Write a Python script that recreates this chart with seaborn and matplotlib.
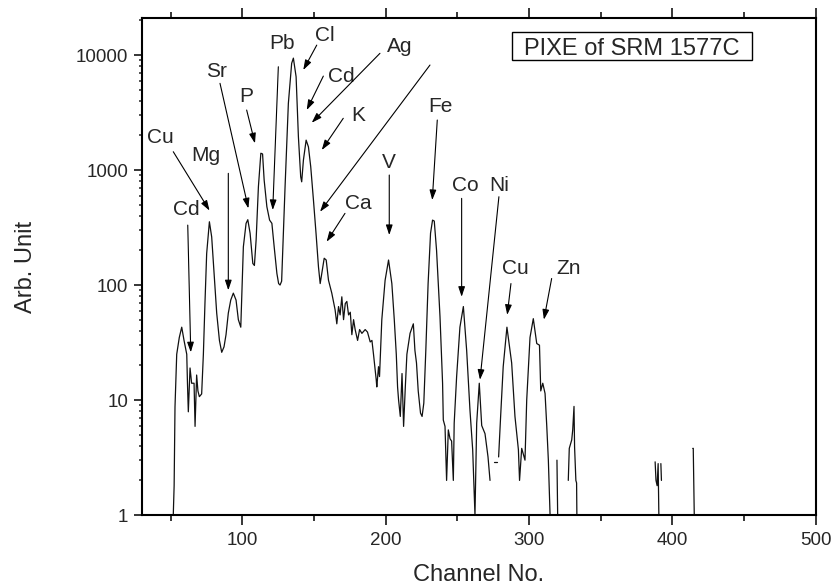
import numpy as np
import pandas as pd
import seaborn as sns
import matplotlib.pyplot as plt
from matplotlib import ticker
from matplotlib.patches import Rectangle

nan = np.nan

# traced spectrum (channel, counts); nan marks a gap where counts drop to zero
channel = [51.8, 52.4, 53.0, 54.2, 56.0, 57.7, 59.3, 61.2, 61.7, 62.3, 63.5, 64.6, 66.3, 67.0,
           68.1, 69.0, 70.0, 71.6, 72.8, 73.9, 75.1, 77.0, 78.6, 80.3, 82.1, 84.0, 85.6, 87.2,
           88.6, 90.2, 91.9, 93.7, 95.6, 97.2, 98.9, 99.8, 100.7, 102.6, 103.8, 105.4, 107.3,
           108.4, 109.6, 111.2, 112.9, 114.1, 115.2, 117.1, 119.0, 120.6, 122.2, 124.1, 125.3,
           126.3, 127.4, 129.8, 132.1, 134.4, 135.6, 137.5, 139.1, 140.7, 141.4, 142.6, 144.5,
           146.1, 147.7, 149.6, 151.4, 153.1, 154.3, 155.4, 157.1, 158.5, 160.1, 162.4, 164.7,
           165.9, 167.1, 168.2, 169.4, 170.6, 171.8, 172.9, 174.1, 175.3, 176.4, 177.6, 178.7,
           180.4, 181.8, 183.4, 185.7, 187.3, 189.2, 190.4, 191.5, 193.4, 193.8, 195.0, 195.7,
           197.3, 199.6, 202.0, 204.3, 206.0, 207.4, 208.3, 209.0, 210.2, 211.4, 212.5, 213.7,
           214.8, 217.0, 219.3, 220.4, 221.5, 222.7, 224.3, 225.4, 226.6, 228.0, 229.6, 231.3,
           232.7, 233.9, 235.5, 237.9, 239.7, 240.2, 241.4, 242.5, 243.7, 244.9, 246.0, 247.2,
           247.8, 249.5, 251.8, 254.2, 256.5, 258.8, 260.7, 262.3, 263.5, 265.3, 267.0, 269.3,
           271.4, 272.8, nan,
           275.3, 277.7, nan,
           278.8, 280.2, 282.0, 284.6, 287.9, 290.2, 292.6, 293.4, 294.9, 297.2, 298.4, 300.7,
           303.0, 305.4, 307.3, 308.2, 309.6, 311.2, 312.4, 313.5, 314.7, nan,
           319.5, 320.0, nan,
           327.4, 328.1, 329.8, 330.5, 331.4, 331.8, 332.7, 333.2, 333.4, nan,
           388.0, 388.6, 389.4, 390.1, 390.6, nan,
           392.0, 392.4, nan,
           414.3, 414.6, 415.3]

counts = [1.0, 1.8, 8.7, 25, 35, 43, 33, 25, 14, 7.9, 19, 14, 14, 5.9,
          16.5, 12, 10.7, 11.3, 25, 69, 188, 355, 262, 126, 57, 33, 26, 29,
          37, 57, 74, 85, 74, 50, 43, 96, 215, 344, 370, 282, 154,
          148, 246, 716, 1400, 1380, 820, 480, 367, 344, 215, 126, 103,
          100, 108, 716, 3800, 8470, 9400, 6470, 1950, 875, 790, 1220, 1820,
          1590, 1070, 548, 282, 144, 103, 126, 171, 165, 110, 85, 61,
          46, 65, 55, 79, 50, 69, 72, 55, 58, 37, 50, 41,
          33, 41, 38, 41, 39, 32, 33, 25, 15, 13, 19.5, 16,
          50, 110, 165, 103, 50, 25, 13, 10, 7.2, 17, 5.9, 13,
          25, 38, 46, 27, 21, 12, 7.7, 7.2, 9.4, 27, 103, 282,
          367, 360, 200, 53, 14, 6.7, 5.9, 2.0, 5.5, 4.6, 4.4, 2.0,
          6.3, 16, 43, 65, 27, 8.2, 3.7, 1.0, 6.3, 14, 6.0, 5.1,
          3.2, 2.0, nan,
          2.9, 2.9, nan,
          3.2, 7.2, 19.5, 43, 21, 7.2, 3.7, 2.0, 3.8, 3.0, 10, 35,
          51, 31, 30, 12, 14, 11.4, 5.9, 3.0, 1.0, nan,
          3.0, 1.0, nan,
          2.0, 3.8, 4.5, 5.5, 8.8, 3.9, 2.0, 1.9, 1.0, nan,
          2.9, 2.0, 1.8, 2.8, 1.0, nan,
          2.8, 2.0, nan,
          3.8, 3.8, 1.0]

df = pd.DataFrame({'channel': channel, 'counts': counts})
df['seg'] = df['counts'].isna().cumsum()
df = df.dropna()

# peak labels: label, text position, list of (arrow tail, arrow tip)
peaks = [
    ('Cu', (42.6, 1900), [((51.8, 1443), (77.1, 444))]),
    ('Mg', (74.4, 1350), [((90.2, 936), (90.2, 90))]),
    ('Cd', (61.2, 450), [((61.9, 332), (64.0, 26))]),
    ('Sr', (82.1, 7160), [((84.4, 5675), (104.2, 464))]),
    ('P', (102.5, 4340), [((103.0, 3325), (108.8, 1707))]),
    ('Pb', (127.5, 12650), [((125.1, 7910), (121.2, 449))]),
    ('Cl', (157.7, 14930), [((151.9, 12200), (142.5, 7410))]),
    ('Cd', (169.3, 6560), [((156.5, 6560), (144.9, 3325))]),
    ('Ag', (210.0, 11800), [((196.0, 10350), (148.4, 2578)),
                            ((230.9, 8185), (154.2, 434))]),
    ('K', (180.9, 3006), [((170.4, 2818), (155.4, 1493))]),
    ('Ca', (180.9, 513), [((171.6, 420), (158.8, 238))]),
    ('V', (202.5, 1157), [((202.5, 905), (202.5, 272))]),
    ('Fe', (237.9, 3555), [((236.0, 2722), (232.5, 548))]),
    ('Co', (255.3, 741), [((253.0, 567), (253.0, 79))]),
    ('Ni', (279.2, 741), [((279.0, 586), (265.8, 15))]),
    ('Cu', (290.2, 140), [((287.4, 103), (284.8, 55))]),
    ('Zn', (327.4, 140), [((315.8, 114), (310.4, 50))]),
]

sns.set_style('ticks')
plt.rcParams['font.family'] = ['Liberation Sans', 'DejaVu Sans']

fig = plt.figure(figsize=(8.34, 5.88), dpi=100)
ax = fig.add_axes([0.1703, 0.1241, 0.8077, 0.8453])

sns.lineplot(data=df, x='channel', y='counts', units='seg', estimator=None, sort=False,
             color='#111111', linewidth=0.9, legend=False, ax=ax)

ax.set_yscale('log')
ax.set_xlim(30, 500)
ax.set_ylim(1, 21000)

ax.xaxis.set_major_locator(ticker.MultipleLocator(100))
ax.xaxis.set_minor_locator(ticker.MultipleLocator(50))
ax.yaxis.set_major_locator(ticker.FixedLocator([1, 10, 100, 1000, 10000]))
ax.yaxis.set_major_formatter(ticker.FuncFormatter(lambda v, p: f'{v:g}'))
ax.yaxis.set_minor_locator(ticker.LogLocator(base=10, subs=np.arange(2, 10)))
ax.yaxis.set_minor_formatter(ticker.NullFormatter())

ax.tick_params(axis='x', which='major', direction='out', length=7, width=1.3,
               top=True, labelsize=13.5, pad=5)
ax.tick_params(axis='x', which='minor', direction='out', length=4, width=1.3, top=True)
ax.tick_params(axis='y', which='major', direction='out', length=6, width=1.3,
               right=False, labelsize=13.5, pad=4)
ax.tick_params(axis='y', which='minor', direction='out', length=2.5, width=1.1, right=False)

for s in ax.spines.values():
    s.set_linewidth(1.5)
    s.set_color('black')

ax.set_xlabel('Channel No.', fontsize=17, labelpad=11)
ax.set_ylabel('Arb. Unit', fontsize=17, labelpad=28)

arrow_kw = dict(arrowstyle='-|>,head_length=0.6,head_width=0.2', color='black',
                lw=0.8, shrinkA=0, shrinkB=0)
for label, pos, arrows in peaks:
    ax.text(pos[0], pos[1], label, fontsize=15, ha='center', va='center')
    for tail, tip in arrows:
        ax.annotate('', xy=tip, xytext=tail, arrowprops=arrow_kw)

ax.add_patch(Rectangle((0.549, 0.9155), 0.356, 0.0565, transform=ax.transAxes,
                       fill=False, edgecolor='black', lw=1.0))
ax.text(0.727, 0.9256, 'PIXE of SRM 1577C', transform=ax.transAxes, fontsize=17,
        ha='center', va='baseline')

fig.savefig('out.png', dpi=100)
